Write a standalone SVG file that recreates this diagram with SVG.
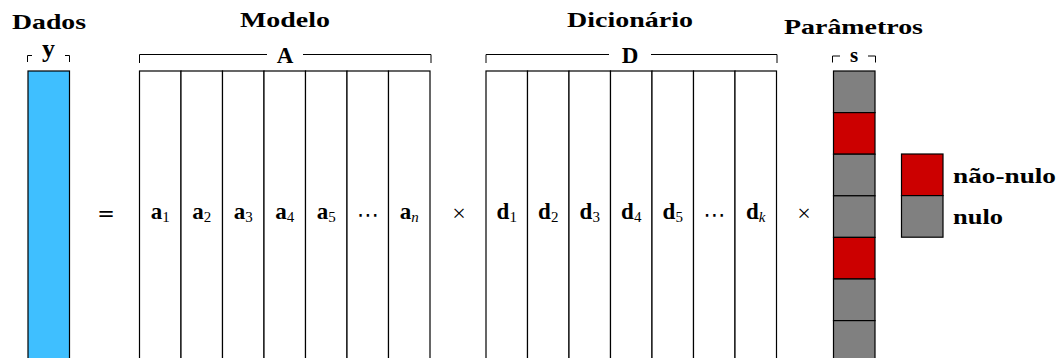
<svg xmlns="http://www.w3.org/2000/svg" width="1062" height="358" viewBox="0 0 1062 358">
<style>
.t{font-family:"Liberation Serif","DejaVu Serif",serif;font-weight:bold;fill:#000}
.h{font-size:22px}
.m{font-family:"Liberation Serif","DejaVu Serif",serif;font-size:23px;fill:#000;text-anchor:middle}
.b{font-weight:bold}
.sub{font-size:15px;font-weight:normal}
.col{fill:#fff;stroke:#000;stroke-width:1.2}
.br{fill:none;stroke:#000;stroke-width:1}
.red{fill:#cc0000;stroke:#000;stroke-width:1.2}
.gray{fill:#808080;stroke:#000;stroke-width:1.2}
.op{font-family:"DejaVu Sans","Liberation Sans",sans-serif;font-size:21px;text-anchor:middle;fill:#000}
.x{font-family:"Liberation Serif","DejaVu Serif",serif;font-size:24px;text-anchor:middle;fill:#000}
.dots{font-family:"DejaVu Sans",sans-serif;font-size:22px;text-anchor:middle;fill:#000}
</style>
<rect width="1062" height="358" fill="#fff"/>

<g id="dados">
<text class="t h" x="12" y="29" textLength="74" lengthAdjust="spacingAndGlyphs">Dados</text>
<path class="br" d="M27.5,62 V55.5 H32 M65,55.5 H69.5 V62"/>
<text class="t" x="48.5" y="57" font-size="26" text-anchor="middle">y</text>
<rect x="28" y="71" width="41.5" height="300" fill="#3fbfff" stroke="#000" stroke-width="1.2"/>
</g>

<text class="op" x="106" y="221">=</text>

<g id="modelo">
<text class="t h" x="240" y="27" textLength="90" lengthAdjust="spacingAndGlyphs">Modelo</text>
<path class="br" d="M139.5,63 V54.5 H267 M303,54.5 H431 V63"/>
<text class="t" x="285" y="63" font-size="23" text-anchor="middle">A</text>
<rect class="col" x="139.5" y="71" width="41.5" height="300"/>
<rect class="col" x="181" y="71" width="41.5" height="300"/>
<rect class="col" x="222.5" y="71" width="41.5" height="300"/>
<rect class="col" x="264" y="71" width="41.5" height="300"/>
<rect class="col" x="305.5" y="71" width="41.5" height="300"/>
<rect class="col" x="347" y="71" width="41.5" height="300"/>
<rect class="col" x="388.5" y="71" width="41.5" height="300"/>
<text class="m" x="160.25" y="219"><tspan class="b">a</tspan><tspan class="sub" dy="3">1</tspan></text>
<text class="m" x="201.75" y="219"><tspan class="b">a</tspan><tspan class="sub" dy="3">2</tspan></text>
<text class="m" x="243.25" y="219"><tspan class="b">a</tspan><tspan class="sub" dy="3">3</tspan></text>
<text class="m" x="284.75" y="219"><tspan class="b">a</tspan><tspan class="sub" dy="3">4</tspan></text>
<text class="m" x="326.25" y="219"><tspan class="b">a</tspan><tspan class="sub" dy="3">5</tspan></text>
<text class="dots" x="367.75" y="222">⋯</text>
<text class="m" x="409.25" y="219"><tspan class="b">a</tspan><tspan class="sub" dy="3" font-style="italic">n</tspan></text>
</g>

<text class="x" x="459" y="221">×</text>

<g id="dicionario">
<text class="t h" x="567" y="27" textLength="126" lengthAdjust="spacingAndGlyphs">Dicionário</text>
<path class="br" d="M486,63 V54.5 H609 M651,54.5 H777 V63"/>
<text class="t" x="630" y="63" font-size="23" text-anchor="middle">D</text>
<rect class="col" x="486" y="71" width="41.5" height="300"/>
<rect class="col" x="527.5" y="71" width="41.5" height="300"/>
<rect class="col" x="569" y="71" width="41.5" height="300"/>
<rect class="col" x="610.5" y="71" width="41.5" height="300"/>
<rect class="col" x="652" y="71" width="41.5" height="300"/>
<rect class="col" x="693.5" y="71" width="41.5" height="300"/>
<rect class="col" x="735" y="71" width="41.5" height="300"/>
<text class="m" x="506.75" y="219"><tspan class="b">d</tspan><tspan class="sub" dy="3">1</tspan></text>
<text class="m" x="548.25" y="219"><tspan class="b">d</tspan><tspan class="sub" dy="3">2</tspan></text>
<text class="m" x="589.75" y="219"><tspan class="b">d</tspan><tspan class="sub" dy="3">3</tspan></text>
<text class="m" x="631.25" y="219"><tspan class="b">d</tspan><tspan class="sub" dy="3">4</tspan></text>
<text class="m" x="672.75" y="219"><tspan class="b">d</tspan><tspan class="sub" dy="3">5</tspan></text>
<text class="dots" x="714.25" y="222">⋯</text>
<text class="m" x="755.75" y="219"><tspan class="b">d</tspan><tspan class="sub" dy="3" font-style="italic">k</tspan></text>
</g>

<text class="x" x="804" y="221">×</text>

<g id="parametros">
<text class="t h" x="784" y="34" textLength="139" lengthAdjust="spacingAndGlyphs">Parâmetros</text>
<path class="br" d="M832.5,62.5 V56 H840 M868,56 H875.5 V62.5"/>
<text class="t" x="854" y="62" font-size="21" text-anchor="middle">s</text>
<rect class="gray" x="833.5" y="71" width="41.5" height="41.6"/>
<rect class="red" x="833.5" y="112.6" width="41.5" height="41.6"/>
<rect class="gray" x="833.5" y="154.2" width="41.5" height="41.6"/>
<rect class="gray" x="833.5" y="195.8" width="41.5" height="41.6"/>
<rect class="red" x="833.5" y="237.4" width="41.5" height="41.6"/>
<rect class="gray" x="833.5" y="279" width="41.5" height="41.6"/>
<rect class="gray" x="833.5" y="320.6" width="41.5" height="50"/>
</g>

<g id="legenda">
<rect class="red" x="901.5" y="154" width="41.5" height="41.6"/>
<rect class="gray" x="901.5" y="195.6" width="41.5" height="41.6"/>
<text class="t" x="953" y="183" font-size="21" textLength="103" lengthAdjust="spacingAndGlyphs">não-nulo</text>
<text class="t" x="953" y="224" font-size="21" textLength="50" lengthAdjust="spacingAndGlyphs">nulo</text>
</g>
</svg>
